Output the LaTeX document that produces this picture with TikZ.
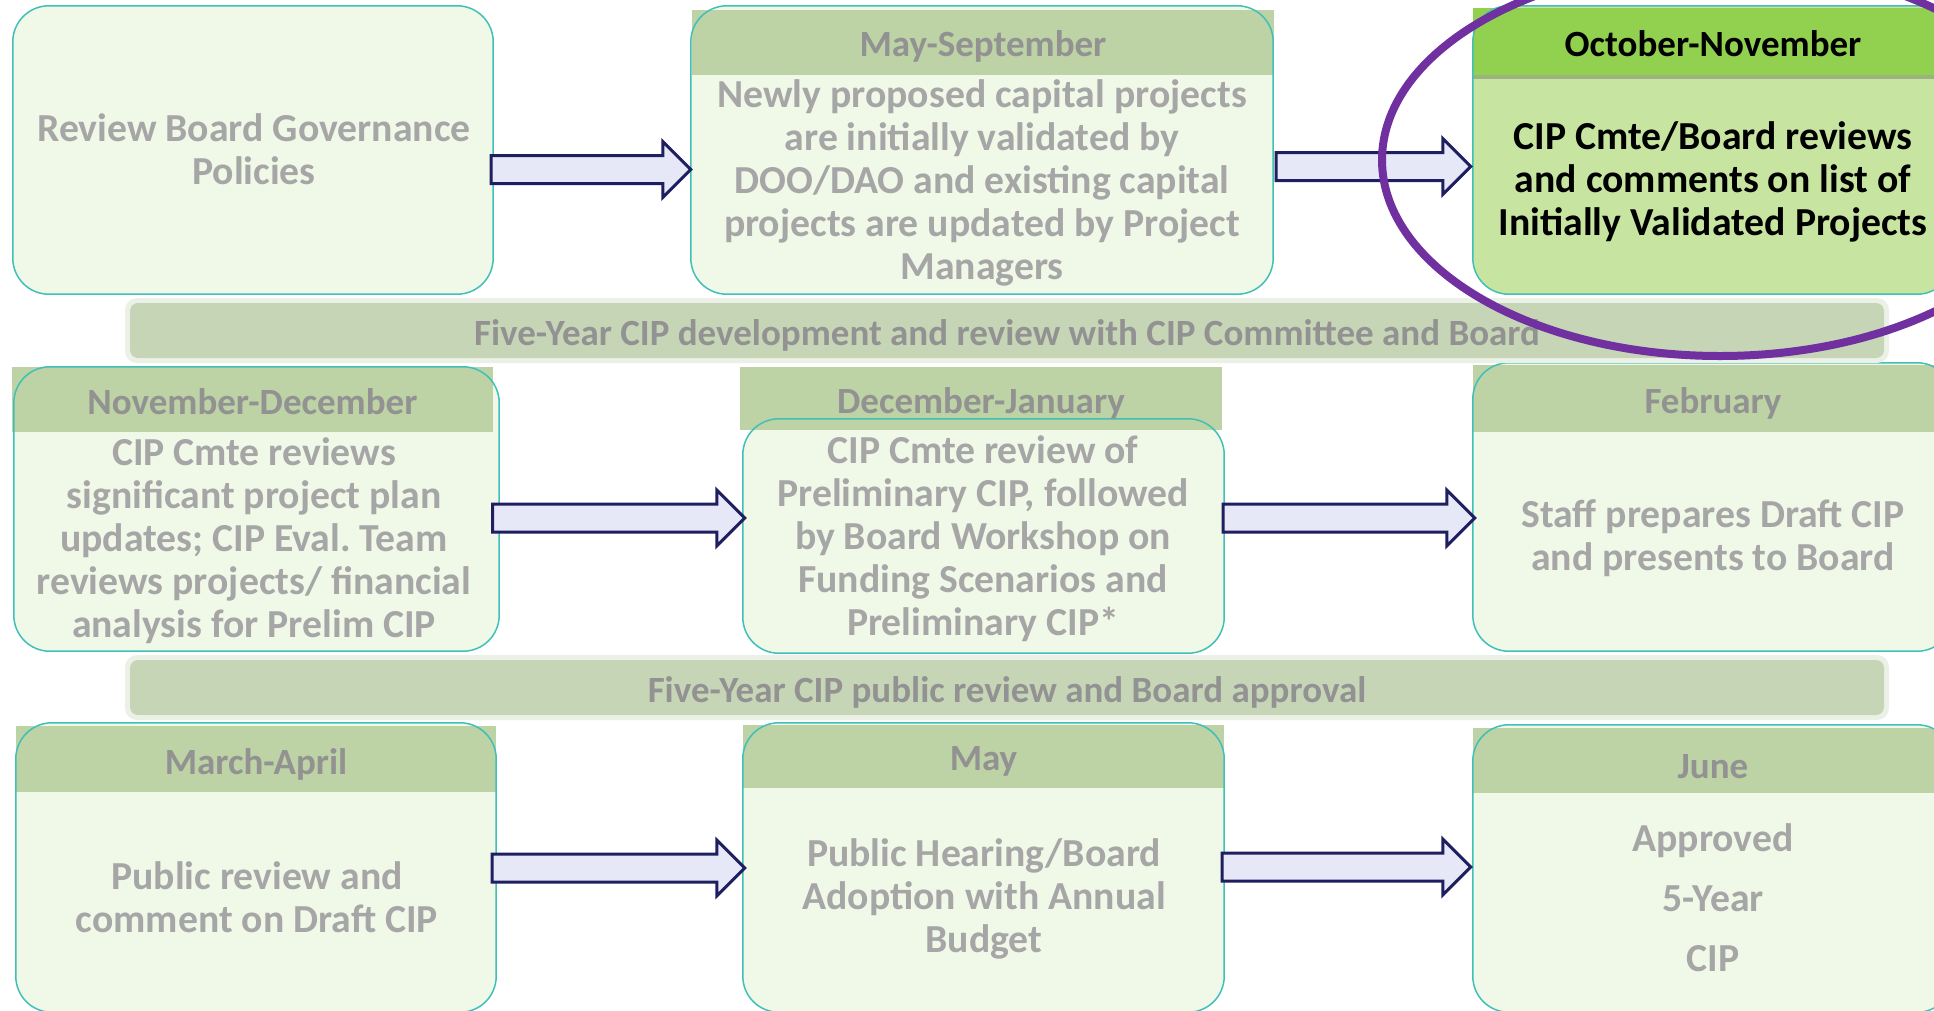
\documentclass[tikz,border=0pt]{standalone}
\usepackage{fontspec}
\setmainfont{Carlito}
\frenchspacing
\usetikzlibrary{calc}
\definecolor{boxfill}{RGB}{240,248,232}
\definecolor{boxline}{RGB}{64,192,184}
\definecolor{hdrfill}{RGB}{189,210,165}
\definecolor{bandfill}{RGB}{199,213,183}
\definecolor{bandglow}{RGB}{236,241,231}
\definecolor{bodytext}{RGB}{166,166,166}
\definecolor{hdrtext}{RGB}{146,146,146}
\definecolor{arrfill}{RGB}{230,232,247}
\definecolor{arrline}{RGB}{30,30,96}
\definecolor{hlband}{RGB}{146,208,80}
\definecolor{hlfill}{RGB}{199,229,161}
\definecolor{hlshade}{RGB}{120,140,100}
\definecolor{ringcol}{RGB}{112,48,160}
\tikzset{
  box/.style={rectangle, rounded corners=36pt, fill=boxfill, inner sep=0pt,
    minimum width=480pt, minimum height=288pt},
  hlbox/.style={box, fill=hlfill},
  boxedge/.style={draw=boxline, line width=1.5pt, rounded corners=36pt},
  hdrband/.style={rectangle, fill=hdrfill, inner sep=0pt, minimum height=65pt, anchor=north},
  hlhdrband/.style={hdrband, fill=hlband},
  hdrlabel/.style={font=\fontsize{37}{40}\selectfont\bfseries, text=hdrtext, inner sep=0pt},
  hlhdrlabel/.style={hdrlabel, text=black},
  body/.style={font=\fontsize{39.7}{43}\selectfont\bfseries, text=bodytext, align=center, inner sep=0pt},
  hlbody/.style={body, text=black},
  divband/.style={rectangle, rounded corners=8pt, fill=bandfill, inner sep=0pt,
    minimum width=1754pt, minimum height=55pt},
  bandlabel/.style={font=\fontsize{37}{40}\selectfont\bfseries, text=hdrtext, inner sep=0pt},
  barrow/.style={draw=arrline, fill=arrfill, line width=3pt, line join=miter,
    to path={let \p1=(\tikztostart), \p2=(\tikztotarget) in
      (\x1,\y1+14pt) -- (\x2-28pt,\y1+14pt) -- (\x2-28pt,\y1+28pt) -- (\x2,\y1)
      -- (\x2-28pt,\y1-28pt) -- (\x2-28pt,\y1-14pt) -- (\x1,\y1-14pt) -- cycle}},
  ring/.style={draw=ringcol, line width=8pt}
}
\begin{document}
\begin{tikzpicture}[x=1pt,y=-1pt]
\useasboundingbox (0,0) rectangle (1934,1010);
\fill[white] (0,0) rectangle (1934,1010);
\clip (0,0) rectangle (1934,1010);

% ---- boxes (fill) ----
\node[box] (A) at (253,150) {};
\node[box, minimum width=582pt] (B) at (982,150) {};
\node[hlbox] (C) at (1713,150) {};
\node[box, minimum width=485pt, minimum height=284pt] (D) at (256.5,509) {};
\node[box, minimum width=481pt, minimum height=234pt] (E) at (983.5,536) {};
\node[box] (F) at (1713,507) {};
\node[box, minimum height=289pt] (G) at (256,867.5) {};
\node[box, minimum width=481pt, minimum height=289pt] (H) at (983.5,867.5) {};
\node[box, minimum height=287pt] (I) at (1713,868.5) {};

% ---- header bands ----
\node[hdrband, minimum width=582pt] (Bh) at ($(B.north)+(1,4)$) {};
\node[hlhdrband, minimum width=480pt, minimum height=67pt] (Ch) at ($(C.north)+(0,2)$) {};
\fill[hlshade, opacity=0.55] (Ch.south west) rectangle ($(Ch.south east)+(0,4)$);
\node[hdrband, minimum width=481pt] (Dh) at ($(D.north)+(-4,0)$) {};
\node[hdrband, minimum width=482pt, minimum height=63pt] (Eh) at (981,367) {};
\node[hdrband, minimum width=480pt, minimum height=67pt] (Fh) at ($(F.north)+(0,2)$) {};
\node[hdrband, minimum width=480pt, minimum height=66pt] (Gh) at ($(G.north)+(0,3)$) {};
\node[hdrband, minimum width=481pt, minimum height=63pt] (Hh) at ($(H.north)+(0,2)$) {};
\node[hdrband, minimum width=480pt, minimum height=65pt] (Ih) at ($(I.north)+(0,3)$) {};

% ---- box borders ----
\foreach \b in {A,B,C,D,E,F,G,H,I}
  \draw[boxedge] (\b.north west) rectangle (\b.south east);

% ---- divider bands ----
\fill[bandglow, rounded corners=12pt] (125,298) rectangle (1889,363);
\node[divband] (R1) at (1007,330.5) {};
\fill[bandglow, rounded corners=12pt] (125,655) rectangle (1889,720);
\node[divband] (R2) at (1007,687.5) {};
\node[bandlabel] at ([yshift=-5pt]R1) {Five-Year CIP development and review with CIP Committee and Board};
\node[bandlabel] at ([yshift=-5pt]R2) {Five-Year CIP public review and Board approval};

% ---- header labels ----
\node[hdrlabel] at ([yshift=-3.5pt]Bh) {May-September};
\node[hlhdrlabel] at ([yshift=-2.5pt]Ch) {October-November};
\node[hdrlabel] at ([yshift=-2.5pt]Dh) {November-December};
\node[hdrlabel] at ([yshift=-5pt]Eh) {December-January};
\node[hdrlabel] at ([yshift=-5pt]Fh) {February};
\node[hdrlabel] at ([yshift=-5pt]Gh) {March-April};
\node[hdrlabel] at ([yshift=-5pt]Hh) {May};
\node[hdrlabel] at ([yshift=-6pt]Ih) {June};

% ---- body texts ----
\node[body] (At) at (254,149) {Review Board Governance\\Policies};
\node[body] (Bt) at (982,182.5) {Newly proposed capital projects\\are initially validated by\\DOO/DAO and existing capital\\projects are updated by Project\\Managers};
\node[hlbody] (Ct) at (1713,182) {CIP Cmte/Board reviews\\and comments on list of\\Initially Validated Projects};
\node[body] (Dt) at (254,540.5) {CIP Cmte reviews\\significant project plan\\updates; CIP Eval. Team\\reviews projects/ financial\\analysis for Prelim CIP};
\node[body] (Et) at (983,538.7) {CIP Cmte review of\\Preliminary CIP, followed\\by Board Workshop on\\Funding Scenarios and\\Preliminary CIP*};
\node[body] (Ft) at (1713,538) {Staff prepares Draft CIP\\and presents to Board};
\node[body] (Gt) at (257,897.2) {Public review and\\comment on Draft CIP};
\node[body] (Ht) at (984,898.7) {Public Hearing/Board\\Adoption with Annual\\Budget};
\node[body] (It) at (1713,898) {Approved\\[17pt]5-Year\\[17pt]CIP};

% ---- block arrows ----
\draw[barrow] ([yshift=-19.5pt,xshift=-2pt]A.east) to (B.west);
\draw[barrow] ([yshift=-16.5pt,xshift=3pt]B.east) to ([xshift=-2pt]C.west);
\draw[barrow] ([yshift=-9pt,xshift=-6.5pt]D.east) to ([xshift=2pt]E.west);
\draw[barrow] ([yshift=18pt,xshift=-1pt]E.east) to ([xshift=2pt]F.west);
\draw[barrow] ([yshift=-0.5pt,xshift=-4pt]G.east) to ([xshift=2pt]H.west);
\draw[barrow] ([yshift=0.5pt,xshift=-2pt]H.east) to ([xshift=-2pt]I.west);

% ---- highlight ring ----
\draw[ring] (1720,160) ellipse [x radius=338, y radius=196];
\end{tikzpicture}
\end{document}
